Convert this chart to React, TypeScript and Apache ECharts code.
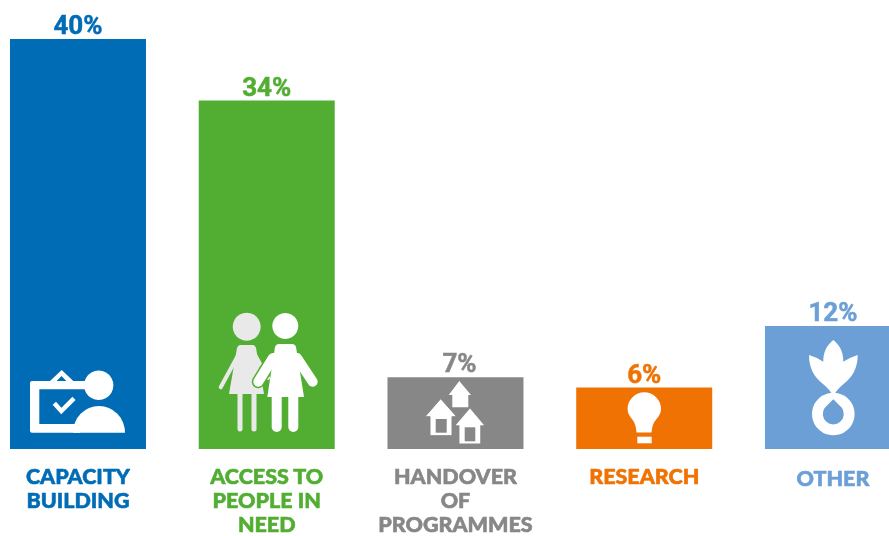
import React, { useEffect, useRef } from "react";
import * as echarts from "echarts";

const categories = ["CAPACITY\nBUILDING", "ACCESS TO\nPEOPLE IN\nNEED", "HANDOVER\nOF\nPROGRAMMES", "RESEARCH", "OTHER"];
const shares = [40, 34, 7, 6, 12];
const colors = ["#006cb5", "#52ae32", "#878787", "#ef7203", "#6c9fd6"];

const WHITE = "#ffffff";
const GIRL = "#e9e9e9";
const ICON_Z = 10;

const shapes: Record<string, string> = {
  boardFrame:
    "M32 381L50 381L61.7 370L73.3 381L90 381L90 389.3L39.3 389.3L39.3 424L80 424L80 432.7L32 432.7Q30 432.7 30 430.7L30 383Q30 381 32 381Z",
  boardBody: "M73 432.7A26 26.7 0 0 1 125 432.7Z",
  bulb: "M636.5 432.5L651.5 432.5Q652 424 656.5 419Q661 414 661 409A16.7 16.7 0 1 0 627.6 409Q627.6 414 632 419Q636 424 636.5 432.5Z",
  leaves:
    "M833.3 340C827 345 823 352 823.3 361.7Q816 357 809 355C809 368 814 377 823 384C828 388 831 392 833.3 396C835.6 392 838.6 388 843.6 384C852.6 377 857.7 368 857.7 355Q851 357 843.3 361.7C843.6 352 839.6 345 833.3 340Z",
  drop: "M833.3 399.3Q838 404 842 408A10.5 10.5 0 1 1 824.6 408Q828.6 404 833.3 399.3Z",
  dressA: "M240 345L253 345Q255 345 256 348L264 394L229 394L237 348Q238 345 240 345Z",
  dressB: "M279 344L292 344Q295 344 296 347L304 397L267.3 397L275 347Q276 344 279 344Z",
  house1: "M459.3 381L471 395L468.3 395L468.3 407.3L452.3 407.3L452.3 395L448.7 395Z",
  house2: "M440.7 398.7L456.7 416.7L452 416.7L452 435.7L430 435.7L430 416.7L425 416.7Z",
  house3: "M470 407.3L485.7 426L481 426L481 444.3L458.7 444.3L458.7 426L454 426Z",
};
Object.keys(shapes).forEach((k) => {
  echarts.graphic.registerShape(k, echarts.graphic.extendPath(shapes[k] as any, {}) as any);
});

const fill = (fillColor: string) => ({ fill: fillColor });
const stroke = (c: string, w: number, cap = "round") => ({ stroke: c, lineWidth: w, lineCap: cap, fill: "none" });
const line = (x1: number, y1: number, x2: number, y2: number, style: any) => ({
  type: "line",
  z: ICON_Z,
  shape: { x1, y1, x2, y2 },
  style,
  silent: true,
});
const circle = (cx: number, cy: number, r: number, c: string) => ({
  type: "circle",
  z: ICON_Z,
  shape: { cx, cy, r },
  style: fill(c),
  silent: true,
});
const rect = (x: number, y: number, width: number, height: number, c: string) => ({
  type: "rect",
  z: ICON_Z,
  shape: { x, y, width, height },
  style: fill(c),
  silent: true,
});
const shape = (type: string, c: string, extra: any = {}) => ({
  type,
  z: ICON_Z,
  x: 0,
  y: 0,
  style: { fill: c, ...extra },
  silent: true,
});

const icons = [
  // capacity building
  shape("boardFrame", WHITE),
  shape("boardBody", WHITE),
  circle(98.7, 385.3, 14.7, WHITE),
  {
    type: "polygon",
    z: ICON_Z,
    shape: { points: [[61.5, 376], [56.7, 381], [66.3, 381]] },
    style: fill(colors[0]),
    silent: true,
  },
  {
    type: "polyline",
    z: ICON_Z,
    shape: { points: [[54.3, 403.3], [61.3, 411], [74, 398.3]] },
    style: stroke(WHITE, 4.5, "butt"),
    silent: true,
  },
  // access to people in need
  circle(246.7, 326.7, 14, GIRL),
  shape("dressA", GIRL),
  line(237.3, 356.7, 220.7, 387.3, stroke(GIRL, 4)),
  line(256, 356.7, 268, 378, stroke(GIRL, 4)),
  line(240, 394, 240, 429, stroke(GIRL, 5)),
  line(254, 394, 254, 429, stroke(GIRL, 5)),
  line(271.7, 360, 258.3, 381.7, stroke(colors[1], 13)),
  circle(285.3, 326, 13, WHITE),
  shape("dressB", WHITE),
  line(273, 358, 258.3, 381.7, stroke(WHITE, 10)),
  line(297, 358, 312.7, 381.7, stroke(WHITE, 10)),
  line(276.7, 395, 276.7, 427, stroke(WHITE, 10)),
  line(293.3, 395, 293.3, 427, stroke(WHITE, 10)),
  // handover of programmes
  shape("house1", WHITE),
  shape("house2", WHITE, { stroke: colors[2], lineWidth: 1 }),
  rect(435.7, 419, 11, 13.7, colors[2]),
  shape("house3", WHITE, { stroke: colors[2], lineWidth: 1.5 }),
  rect(464.7, 427.3, 10.6, 14, colors[2]),
  // research
  shape("bulb", WHITE),
  rect(637.3, 436.7, 14.4, 6.6, WHITE),
  // other
  shape("leaves", WHITE),
  circle(833.3, 414, 21.3, WHITE),
  shape("drop", colors[4]),
];

export default function App() {
  const ref = useRef<HTMLDivElement>(null);
  useEffect(() => {
    if (!ref.current) return;
    const chart = echarts.init(ref.current, undefined, { renderer: "svg" });
    chart.setOption({
      animation: false,
      grid: { left: -16.4, top: 39, width: 943.75, height: 410, containLabel: false, outerBoundsMode: "none" },
      xAxis: {
        type: "category",
        data: categories.map((c, i) => ({
          value: c,
          textStyle: { color: colors[i], textBorderColor: colors[i], textBorderWidth: 0.6 },
        })),
        axisLine: { show: false },
        axisTick: { show: false },
        axisLabel: {
          interval: 0,
          margin: 15,
          fontFamily: "Lato",
          fontWeight: 900,
          fontSize: 21.5,
          lineHeight: 24,
          formatter: (v: string) => (v === "OTHER" ? `{low|${v}}` : v),
          rich: {
            low: {
              padding: [4, 0, 0, 0],
              fontFamily: "Lato",
              fontWeight: 900,
              fontSize: 21.5,
              lineHeight: 24,
              color: colors[4],
              textBorderColor: colors[4],
              textBorderWidth: 0.6,
            },
          },
        },
      },
      yAxis: { type: "value", min: 0, max: 40, show: false },
      series: [
        {
          type: "bar",
          barWidth: 136,
          data: shares.map((v, i) => ({
            value: v,
            itemStyle: { color: colors[i] },
            label: {
              color: colors[i],
              textBorderColor: colors[i],
              textBorderWidth: 0.5,
              offset: v === 7 ? [4, 0] : [0, 0],
            },
          })),
          label: {
            show: true,
            position: "top",
            distance: 1,
            formatter: "{c}%",
            fontFamily: "Roboto",
            fontWeight: "bold",
            fontSize: 26,
          },
        },
      ],
      graphic: { z: ICON_Z, elements: icons },
    });
    return () => chart.dispose();
  }, []);
  return <div ref={ref} style={{ position: "fixed", left: 0, top: 0, width: 889, height: 536 }} />;
}
